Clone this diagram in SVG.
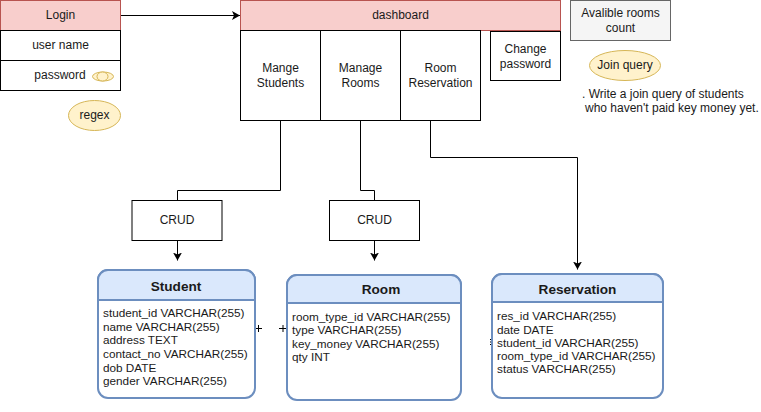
<svg xmlns="http://www.w3.org/2000/svg" width="761" height="412" viewBox="0 0 761 412">
<style>
text{font-family:"Liberation Sans",Arial,sans-serif;font-size:12px;fill:#1a1a1a;text-anchor:middle}
.b{fill:#fff;stroke:#000;stroke-width:1}
.r{fill:#f8cecc;stroke:#b85450;stroke-width:1}
.y{fill:#fff2cc;stroke:#d6b656;stroke-width:1}
.g{fill:#f5f5f5;stroke:#666;stroke-width:1}
.t{fill:#fff;stroke:#6c8ebf;stroke-width:2}
.h{fill:#dae8fc;stroke:#6c8ebf;stroke-width:2}
.tt{font-size:13.6px;font-weight:bold}
.l{text-anchor:start}
.f{text-anchor:start;font-size:11.75px}
.c{fill:none;stroke:#000;stroke-width:1}
</style>
<defs>
<marker id="a" markerUnits="userSpaceOnUse" markerWidth="10" markerHeight="10" refX="8" refY="4.5" orient="auto"><path d="M0 0L8 4.5L0 9L2 4.5Z" fill="#000"/></marker>
</defs>
<g id="connectors">
<path class="c" d="M120.5 15.5H240" marker-end="url(#a)"/>
<path class="c" d="M280.5 120.5V190.5H177.5V200.5"/>
<path class="c" d="M360.5 120.5V190.5H374.5V200.5"/>
<path class="c" d="M430.5 120.5V157.5H577.5V269.5" marker-end="url(#a)"/>
<path class="c" d="M177.5 240.5V260.5" marker-end="url(#a)"/>
<path class="c" d="M374.5 240.5V260.5" marker-end="url(#a)"/>
<path class="c" d="M255 328.5H262M258.500 325V332M279 328.500H287M283 325V332M490.500 339V340M490.500 341.500V342.500M490.500 344V345"/>
</g>
<g id="login">
<rect class="r" x="0.500" y="0.500" width="120" height="30"/><text x="60.500" y="19">Login</text>
</g>
<g id="username">
<rect class="b" x="0.500" y="30.500" width="120" height="30"/><text x="60.500" y="49">user name</text>
</g>
<g id="password">
<rect class="b" x="0.500" y="60.500" width="120" height="30"/><text x="60" y="79">password</text>
<ellipse class="y" cx="103" cy="76.500" rx="10.500" ry="4.500"/><ellipse class="y" cx="102.500" cy="76.500" rx="5.500" ry="4.500"/>
</g>
<g id="regex">
<ellipse class="y" cx="94.500" cy="115.500" rx="26" ry="15"/><text x="94.500" y="119">regex</text>
</g>
<g id="dashboard">
<rect class="r" x="240.500" y="0.500" width="320" height="30"/><text x="400.500" y="19">dashboard</text>
</g>
<g id="mange-students">
<rect class="b" x="240.500" y="30.500" width="80" height="90"/><text x="280.500" y="72">Mange</text><text x="280.500" y="87">Students</text>
</g>
<g id="manage-rooms">
<rect class="b" x="320.500" y="30.500" width="80" height="90"/><text x="360.500" y="72">Manage</text><text x="360.500" y="87">Rooms</text>
</g>
<g id="room-reservation">
<rect class="b" x="400.500" y="30.500" width="80" height="90"/><text x="440.500" y="72">Room</text><text x="440.500" y="87">Reservation</text>
</g>
<g id="change-password">
<rect class="b" x="490.500" y="31.500" width="70" height="49"/><text x="525.500" y="53">Change</text><text x="525.500" y="68">password</text>
</g>
<g id="rooms-count">
<rect class="g" x="570.500" y="0.500" width="100" height="40"/><text x="620.500" y="17">Avalible rooms</text><text x="620.500" y="32">count</text>
</g>
<g id="join-query">
<ellipse class="y" cx="625" cy="65.500" rx="35.500" ry="15"/><text x="625" y="69">Join query</text>
</g>
<g id="join-note">
<text class="l" x="582" y="98">. Write a join query of students</text>
<text class="l" x="585" y="112">who haven't paid key money yet.</text>
</g>
<g id="crud-1">
<rect class="b" x="132" y="200.500" width="90" height="40"/><text x="177" y="224">CRUD</text>
</g>
<g id="crud-2">
<rect class="b" x="329.500" y="200.500" width="90" height="40"/><text x="374.500" y="224">CRUD</text>
</g>
<g id="student">
<rect class="t" x="98" y="270" width="157" height="128" rx="10"/>
<path class="h" d="M98 300V280a10 10 0 0 1 10-10H245a10 10 0 0 1 10 10V300Z"/>
<text class="tt" x="176" y="291">Student</text>
<text class="f" x="103" y="317">student_id VARCHAR(255)</text>
<text class="f" x="103" y="330.500">name VARCHAR(255)</text>
<text class="f" x="103" y="344">address TEXT</text>
<text class="f" x="103" y="358">contact_no VARCHAR(255)</text>
<text class="f" x="103" y="371.500">dob DATE</text>
<text class="f" x="103" y="385">gender VARCHAR(255)</text>
</g>
<g id="room">
<rect class="t" x="287" y="275" width="174" height="125" rx="10"/>
<path class="h" d="M287 303V285a10 10 0 0 1 10-10H451a10 10 0 0 1 10 10V303Z"/>
<text class="tt" x="381" y="294">Room</text>
<text class="f" x="292" y="320.500">room_type_id VARCHAR(255)</text>
<text class="f" x="292" y="334">type VARCHAR(255)</text>
<text class="f" x="292" y="347.500">key_money VARCHAR(255)</text>
<text class="f" x="292" y="361">qty INT</text>
</g>
<g id="reservation">
<rect class="t" x="492" y="274" width="171" height="124" rx="10"/>
<path class="h" d="M492 302V284a10 10 0 0 1 10-10H653a10 10 0 0 1 10 10V302Z"/>
<text class="tt" x="577.500" y="294">Reservation</text>
<text class="f" x="497" y="320">res_id VARCHAR(255)</text>
<text class="f" x="497" y="333.500">date DATE</text>
<text class="f" x="497" y="346.500">student_id VARCHAR(255)</text>
<text class="f" x="497" y="360">room_type_id VARCHAR(255)</text>
<text class="f" x="497" y="373">status VARCHAR(255)</text>
</g>
</svg>
